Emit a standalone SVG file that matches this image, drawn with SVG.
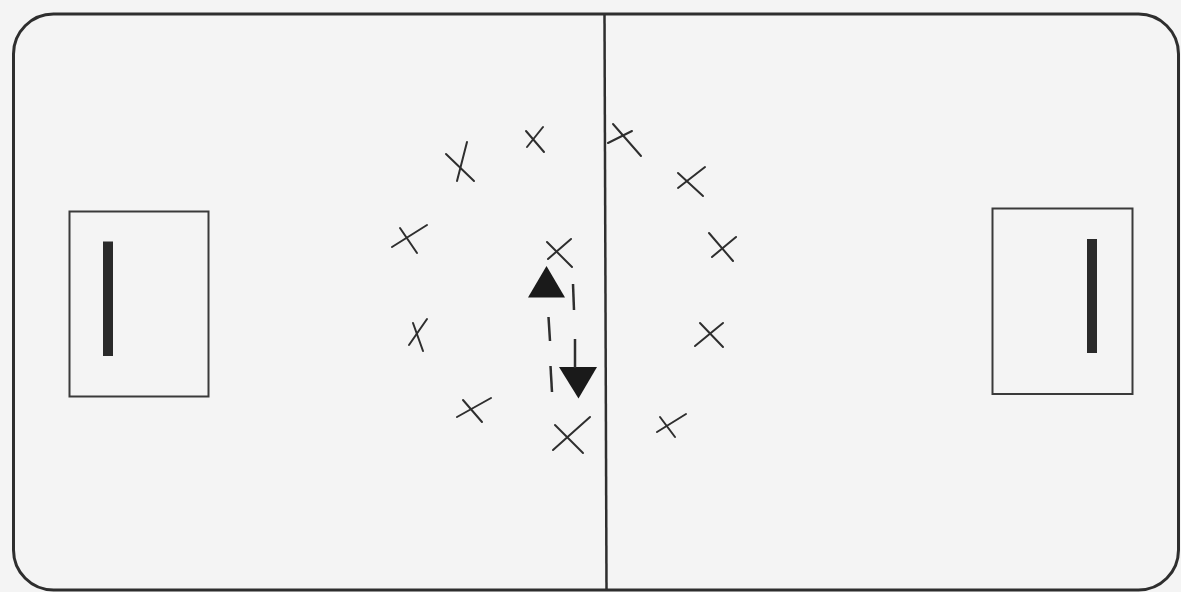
<svg xmlns="http://www.w3.org/2000/svg" width="1181" height="592" viewBox="0 0 1181 592">
<style>
.field{fill:#f4f4f4;stroke:#2e2e2e;stroke-width:3}
.box{fill:none;stroke:#3a3a3a;stroke-width:2}
.bar{fill:#2a2a2a}
.x line{stroke:#2e2e2e;stroke-width:2;stroke-linecap:round}
.tri{fill:#1a1a1a}
.dash{stroke:#2e2e2e;stroke-width:2.5;fill:none}
</style>
<rect x="0" y="0" width="1181" height="592" fill="#f4f4f4"/>
<g id="field">
<rect class="field" x="13.5" y="14" width="1165" height="576" rx="40" ry="40"/>
<line x1="604.5" y1="14" x2="606.5" y2="590" stroke="#2e2e2e" stroke-width="2.5"/>
</g>
<g id="goal-left">
<rect class="box" x="69.5" y="211.5" width="139" height="185"/>
<rect class="bar" x="103" y="241.5" width="10" height="114.5"/>
</g>
<g id="goal-right">
<rect class="box" x="992.5" y="208.5" width="140" height="185.5"/>
<rect class="bar" x="1087" y="239" width="10" height="114"/>
</g>
<g id="players">
<g class="x" id="p1"><line x1="446" y1="154" x2="474" y2="181"/><line x1="467" y1="142" x2="457" y2="181"/></g>
<g class="x" id="p2"><line x1="526" y1="131" x2="544" y2="152"/><line x1="543" y1="127" x2="527" y2="147"/></g>
<g class="x" id="p3"><line x1="613" y1="124" x2="641" y2="156"/><line x1="608" y1="143" x2="632" y2="131"/></g>
<g class="x" id="p4"><line x1="678" y1="173" x2="703" y2="196"/><line x1="705" y1="167" x2="678" y2="188"/></g>
<g class="x" id="p5"><line x1="392" y1="247" x2="427" y2="225"/><line x1="400" y1="228" x2="417" y2="253"/></g>
<g class="x" id="p6"><line x1="547" y1="242" x2="572" y2="267"/><line x1="571" y1="239" x2="548" y2="259"/></g>
<g class="x" id="p7"><line x1="709" y1="233" x2="733" y2="261"/><line x1="736" y1="237" x2="712" y2="257"/></g>
<g class="x" id="p8"><line x1="409" y1="345" x2="427" y2="319"/><line x1="413" y1="323" x2="423" y2="351"/></g>
<g class="x" id="p9"><line x1="695" y1="346" x2="723" y2="323"/><line x1="700" y1="323" x2="723" y2="347"/></g>
<g class="x" id="p10"><line x1="457" y1="417" x2="491" y2="398"/><line x1="463" y1="400" x2="482" y2="422"/></g>
<g class="x" id="p11"><line x1="553" y1="450" x2="590" y2="417"/><line x1="555" y1="425" x2="583" y2="453"/></g>
<g class="x" id="p12"><line x1="657" y1="432" x2="686" y2="414"/><line x1="660" y1="417" x2="675" y2="437"/></g>
</g>
<g id="cone-up"><polygon class="tri" points="546.5,266 528,297.5 565,297.5"/></g>
<g id="cone-down"><polygon class="tri" points="559,367 597,367 578.5,398.5"/></g>
<g id="connectors">
<line class="dash" x1="573" y1="284" x2="574" y2="310"/>
<line class="dash" x1="575" y1="339" x2="575" y2="368"/>
<line class="dash" x1="548.5" y1="317" x2="550" y2="341"/>
<line class="dash" x1="550.5" y1="366" x2="552" y2="392"/>
</g>
</svg>
